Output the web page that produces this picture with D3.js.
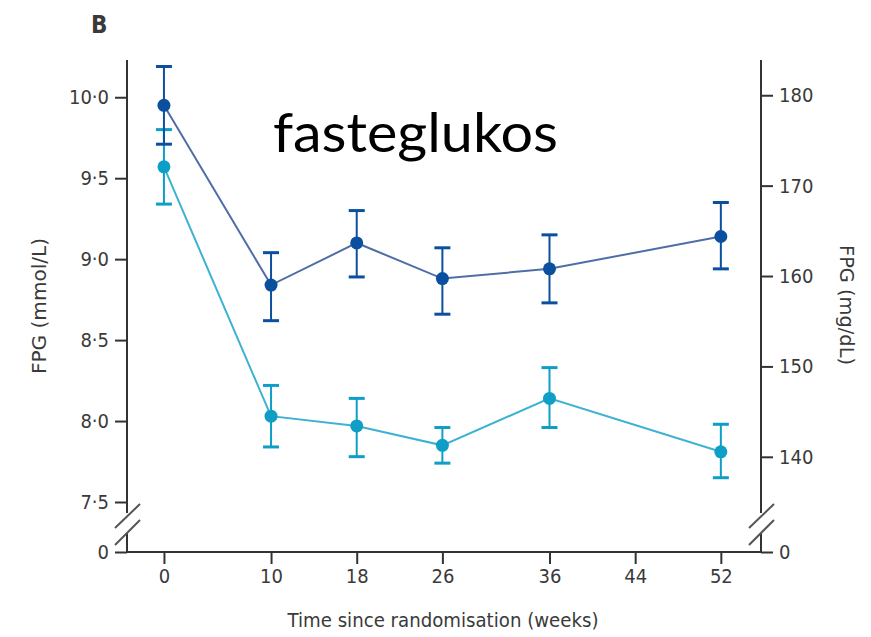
<!DOCTYPE html>
<html>
<head>
<meta charset="utf-8">
<script src="https://cdn.jsdelivr.net/npm/d3@7"></script>
<style>
  body { margin: 0; background: #fff; }
  svg text { font-family: "Liberation Sans Narrow", "DejaVu Sans Condensed", "Roboto", sans-serif; fill: #3a3a3a; }
</style>
</head>
<body>
<div id="chart"></div>
<script>
// weeks since randomisation
let weeks = [0, 10, 18, 26, 36, 52];
let week_ticks = [0, 10, 18, 26, 36, 44, 52];

// FPG mmol/L, dark blue group
let dark_mean = [9.95, 8.84, 9.10, 8.88, 8.94, 9.14];
let dark_hi   = [10.19, 9.04, 9.30, 9.07, 9.15, 9.35];
let dark_lo   = [9.71, 8.62, 8.89, 8.66, 8.73, 8.94];

// FPG mmol/L, light blue group
let light_mean = [9.57, 8.03, 7.97, 7.85, 8.14, 7.81];
let light_hi   = [9.80, 8.22, 8.14, 7.96, 8.33, 7.98];
let light_lo   = [9.34, 7.84, 7.78, 7.74, 7.96, 7.65];

let left_ticks = [0, 7.5, 8.0, 8.5, 9.0, 9.5, 10.0];
let right_ticks = [0, 140, 150, 160, 170, 180];

let W = 871, H = 637;
let pl = 127, pr = 761, pt = 60, pb = 552;

let svg = d3.select("#chart").append("svg")
  .attr("width", W)
  .attr("height", H);

let x = d3.scaleLinear().domain([-3.45, 55.75]).range([pl, pr]);
// broken axis: 0 sits on the baseline, 7.5 just above the break
let yL = d3.scaleLinear().domain([0, 7.5, 10.23]).range([pb, 502, pt]);
let yR = d3.scaleLinear().domain([0, 135, 183.9]).range([pb, 502, pt]);

let fmt = d => d === 0 ? "0" : d3.format(".1f")(d).replace(".", "\u00b7");

let axisCol = "#333";
let tickFont = "20px";

// left axis
let gl = svg.append("g").attr("transform", `translate(${pl},0)`)
  .call(d3.axisLeft(yL).tickValues(left_ticks).tickSize(12).tickPadding(6).tickFormat(fmt));
gl.select(".domain").remove();
gl.selectAll("line").attr("stroke", axisCol).attr("stroke-width", 2);
gl.selectAll("text").style("font-size", tickFont).attr("fill", "#3a3a3a");

// right axis
let gr = svg.append("g").attr("transform", `translate(${pr},0)`)
  .call(d3.axisRight(yR).tickValues(right_ticks).tickSize(12).tickPadding(6).tickFormat(d => d));
gr.select(".domain").remove();
gr.selectAll("line").attr("stroke", axisCol).attr("stroke-width", 2);
gr.selectAll("text").style("font-size", tickFont).attr("fill", "#3a3a3a");

// bottom axis
let gb = svg.append("g").attr("transform", `translate(0,${pb})`)
  .call(d3.axisBottom(x).tickValues(week_ticks).tickSize(12).tickPadding(5));
gb.select(".domain").remove();
gb.selectAll("line").attr("stroke", axisCol).attr("stroke-width", 2);
gb.selectAll("text").style("font-size", tickFont).attr("fill", "#3a3a3a");

// axis lines with the break
let gapTop = yL(7.5) + 11, gapBot = yL(7.5) + 31;
let lines = [
  [pl, pt, pl, gapTop], [pl, gapBot, pl, pb + 1],
  [pr, pt, pr, gapTop], [pr, gapBot, pr, pb + 1],
  [pl, pb, pr, pb]
];
svg.append("g").selectAll("line").data(lines).join("line")
  .attr("x1", d => d[0]).attr("y1", d => d[1])
  .attr("x2", d => d[2]).attr("y2", d => d[3])
  .attr("stroke", axisCol).attr("stroke-width", 2);

// break slashes
let slashes = [];
[pl, pr].forEach(function(ax){
  slashes.push([ax - 12, gapTop + 15, ax + 13, gapTop - 9]);
  slashes.push([ax - 12, gapBot + 12, ax + 13, gapBot - 13]);
});
svg.append("g").selectAll("line").data(slashes).join("line")
  .attr("x1", d => d[0]).attr("y1", d => d[1])
  .attr("x2", d => d[2]).attr("y2", d => d[3])
  .attr("stroke", "#555").attr("stroke-width", 2);

// series
function draw_series(mean, hi, lo, markCol, lineCol){
  let pts = weeks.map((w, i) => ({w: w, m: mean[i], hi: hi[i], lo: lo[i]}));
  let g = svg.append("g");
  g.append("path")
    .datum(pts)
    .attr("fill", "none")
    .attr("stroke", lineCol)
    .attr("stroke-width", 2)
    .attr("d", d3.line().x(d => x(d.w)).y(d => yL(d.m)));
  g.selectAll(".bar").data(pts).join("line")
    .attr("x1", d => x(d.w)).attr("x2", d => x(d.w))
    .attr("y1", d => yL(d.hi)).attr("y2", d => yL(d.lo))
    .attr("stroke", markCol).attr("stroke-width", 2);
  let caps = [];
  pts.forEach(d => { caps.push({w: d.w, v: d.hi}); caps.push({w: d.w, v: d.lo}); });
  g.selectAll(".cap").data(caps).join("line")
    .attr("x1", d => x(d.w) - 8).attr("x2", d => x(d.w) + 8)
    .attr("y1", d => yL(d.v)).attr("y2", d => yL(d.v))
    .attr("stroke", markCol).attr("stroke-width", 3);
  g.selectAll("circle").data(pts).join("circle")
    .attr("cx", d => x(d.w)).attr("cy", d => yL(d.m))
    .attr("r", 6.5)
    .attr("fill", markCol);
}

draw_series(light_mean, light_hi, light_lo, "#0e9ec6", "#3db2d2");
draw_series(dark_mean, dark_hi, dark_lo, "#0b4f9f", "#4f6ea8");

// labels
svg.append("text")
  .attr("transform", `translate(46,${(pt + pb) / 2 + 0}) rotate(-90)`)
  .attr("text-anchor", "middle")
  .style("font-size", "20px")
  .attr("textLength", 136)
  .attr("lengthAdjust", "spacingAndGlyphs")
  .text("FPG (mmol/L)");

svg.append("text")
  .attr("transform", `translate(840,${(pt + pb) / 2 - 1}) rotate(90)`)
  .attr("text-anchor", "middle")
  .style("font-size", "20px")
  .attr("textLength", 120)
  .attr("lengthAdjust", "spacingAndGlyphs")
  .text("FPG (mg/dL)");

svg.append("text")
  .attr("x", 443)
  .attr("y", 627)
  .attr("text-anchor", "middle")
  .style("font-size", "20px")
  .attr("textLength", 311)
  .attr("lengthAdjust", "spacingAndGlyphs")
  .text("Time since randomisation (weeks)");

svg.append("text")
  .attr("x", 91)
  .attr("y", 33)
  .style("font-size", "24px")
  .style("font-weight", "bold")
  .text("B");

svg.append("text")
  .attr("x", 273)
  .attr("y", 152)
  .style("font-family", "Lato, 'Open Sans', sans-serif")
  .style("font-size", "55px")
  .style("fill", "#000")
  .attr("textLength", 285)
  .attr("lengthAdjust", "spacingAndGlyphs")
  .text("fasteglukos");
</script>
</body>
</html>
